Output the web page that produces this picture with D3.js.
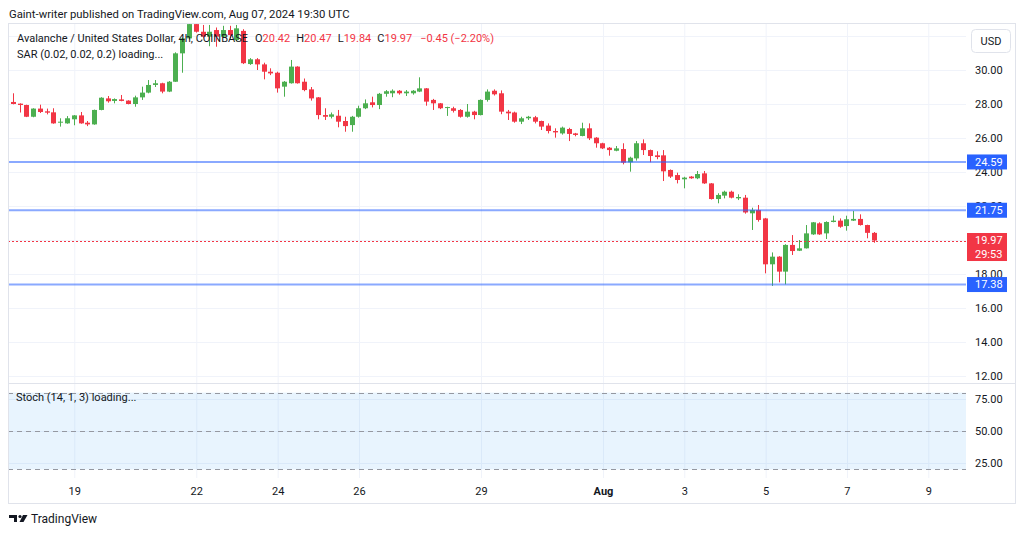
<!DOCTYPE html>
<html>
<head>
<meta charset="utf-8">
<script src="https://cdn.jsdelivr.net/npm/d3@7"></script>
<style>
  body { margin: 0; background: #ffffff; }
  svg text { font-family: Roboto, "Open Sans", sans-serif; }
</style>
</head>
<body>
<div id="vis1"></div>
<script>
// declare constants
const FRAME_WIDTH = 1024;
const FRAME_HEIGHT = 536;
const CHART = {left: 8, right: 1015, top: 23, bottom: 503};
const PLOT_RIGHT = 966;
const MAIN = {top: 23, bottom: 383};
const STOCH = {top: 383, bottom: 478};

const UP = "#4caf50";
const DOWN = "#f23645";
const TEXT = "#131722";
const GRID = "#f0f3fa";
const BORDER = "#e0e3eb";
const LEVEL_BLUE = "#2962ff";

// data: AVAX/USD 4h candles, first one opens Jul 17 12:00 UTC
const START = "2024-07-17T12:00:00Z";
const STEP_HOURS = 4;

const OPENS = [
  28.12, 28.02, 27.94, 27.25, 27.73, 27.57, 27.51, 26.90, 26.86, 27.10,
  27.33, 26.90, 26.80, 27.65, 28.33, 28.18, 28.27, 28.20, 28.00, 28.39,
  28.67, 29.12, 29.22, 28.73, 29.31, 30.98, 31.86, 32.70, 32.25, 31.96,
  32.35, 31.96, 32.35, 31.76, 32.30, 30.35, 30.63, 30.33, 29.90, 29.84,
  29.02, 29.22, 30.20, 29.31, 28.86, 28.39, 27.35, 27.25, 27.31, 27.00,
  26.76, 27.25, 27.75, 28.10, 27.94, 28.60, 28.63, 28.78, 28.63, 28.63,
  28.73, 28.92, 28.24, 28.04, 27.78, 27.75, 27.65, 27.25, 27.55, 27.35,
  28.24, 28.78, 28.63, 27.55, 27.50, 26.96, 27.16, 27.22, 27.00, 26.73,
  26.41, 26.27, 26.53, 26.27, 26.12, 26.57, 26.02, 25.69, 25.43, 25.25,
  25.35, 24.57, 24.80, 25.69, 25.29, 24.98, 24.98, 24.12, 23.82, 23.57,
  23.73, 23.63, 23.92, 23.33, 22.41, 22.61, 22.84, 22.45, 22.49, 21.57,
  21.76, 21.27, 18.57, 19.02, 18.14, 19.71, 19.37, 19.51, 20.33, 20.98,
  20.39, 21.06, 21.14, 20.82, 21.14, 21.24, 20.88, 20.42
];
const HIGHS = [
  28.63, 28.04, 27.96, 27.75, 27.96, 27.73, 27.75, 27.16, 27.29, 27.35,
  27.53, 27.00, 27.67, 28.40, 28.47, 28.33, 28.53, 28.22, 28.49, 29.02,
  29.41, 29.41, 29.25, 29.35, 31.04, 31.90, 33.00, 33.10, 32.65, 32.65,
  32.50, 32.60, 32.60, 32.65, 32.40, 30.70, 30.70, 30.43, 30.10, 29.90,
  29.35, 30.59, 30.22, 29.50, 29.00, 28.41, 27.75, 27.50, 27.65, 27.25,
  27.30, 27.90, 28.27, 28.43, 28.65, 28.82, 28.86, 28.82, 28.82, 28.82,
  29.57, 28.94, 28.30, 28.06, 27.84, 27.84, 27.70, 28.00, 27.60, 28.27,
  28.86, 28.86, 28.80, 27.65, 27.55, 27.25, 27.30, 27.30, 27.02, 26.86,
  26.57, 26.67, 26.60, 26.30, 26.90, 26.86, 26.05, 25.72, 25.47, 25.53,
  25.69, 24.90, 25.82, 25.92, 25.32, 25.22, 25.29, 24.15, 23.96, 23.72,
  23.76, 24.06, 24.06, 23.35, 22.75, 22.90, 22.90, 22.69, 22.65, 21.90,
  22.06, 21.30, 19.27, 19.05, 19.75, 20.29, 20.00, 20.88, 21.06, 21.04,
  21.10, 21.43, 21.27, 21.43, 21.71, 21.51, 20.90, 20.47
];
const LOWS = [
  27.98, 27.50, 27.23, 27.22, 27.47, 27.39, 26.84, 26.67, 26.84, 26.75,
  26.84, 26.70, 26.78, 27.63, 28.08, 28.04, 28.16, 27.98, 27.84, 28.24,
  28.63, 29.00, 28.63, 28.70, 29.30, 29.84, 31.80, 32.20, 31.90, 31.40,
  31.37, 31.90, 31.85, 31.70, 30.35, 30.30, 30.00, 29.45, 29.70, 28.67,
  28.43, 29.20, 29.20, 28.75, 28.20, 27.10, 27.06, 27.15, 26.63, 26.37,
  26.37, 27.20, 27.70, 27.80, 27.70, 28.43, 28.40, 28.55, 28.47, 28.55,
  28.70, 27.90, 27.65, 27.70, 27.30, 27.50, 27.20, 27.20, 27.10, 27.33,
  28.14, 28.50, 27.40, 27.06, 26.90, 26.82, 27.06, 26.86, 26.47, 26.27,
  26.02, 26.20, 25.82, 26.10, 26.10, 25.88, 25.43, 25.35, 24.96, 25.22,
  24.45, 24.02, 24.67, 25.00, 24.57, 24.75, 23.47, 23.65, 23.33, 23.04,
  23.60, 23.58, 23.30, 22.38, 22.16, 22.45, 22.45, 22.35, 21.55, 20.59,
  21.08, 18.04, 17.30, 17.51, 17.39, 19.12, 19.35, 19.50, 20.30, 20.30,
  20.06, 21.04, 20.72, 20.55, 21.12, 20.85, 20.10, 19.84
];
const CLOSES = [
  28.00, 27.94, 27.25, 27.73, 27.53, 27.49, 26.86, 26.96, 27.16, 27.33,
  26.86, 26.80, 27.65, 28.37, 28.16, 28.29, 28.18, 28.00, 28.39, 28.67,
  29.12, 29.22, 28.73, 29.31, 30.98, 31.86, 32.70, 32.25, 31.96, 32.25,
  31.96, 32.35, 32.05, 32.45, 30.40, 30.63, 30.33, 29.90, 29.80, 28.92,
  29.31, 30.20, 29.22, 28.82, 28.33, 27.35, 27.25, 27.39, 26.96, 26.70,
  27.25, 27.75, 28.04, 27.94, 28.60, 28.75, 28.78, 28.63, 28.73, 28.78,
  28.92, 28.14, 28.04, 27.75, 27.82, 27.60, 27.25, 27.55, 27.35, 28.24,
  28.73, 28.57, 27.55, 27.45, 26.96, 27.16, 27.25, 26.96, 26.67, 26.41,
  26.33, 26.61, 26.24, 26.18, 26.57, 25.98, 25.69, 25.39, 25.29, 25.39,
  24.55, 24.84, 25.69, 25.29, 24.94, 24.88, 24.04, 23.73, 23.53, 23.67,
  23.63, 23.88, 23.33, 22.41, 22.65, 22.84, 22.49, 22.53, 21.62, 21.76,
  21.18, 18.57, 19.02, 18.14, 19.71, 19.35, 19.51, 20.39, 21.04, 20.33,
  21.06, 21.14, 20.78, 21.22, 21.24, 20.88, 20.42, 19.97
];

// horizontal levels drawn on the chart
const LEVELS = [24.59, 21.75, 17.38];
const COUNTDOWN = "29:53";

// axes
const PRICE_TICKS = [12, 14, 16, 18, 20, 22, 24, 26, 28, 30, 32];
const STOCH_TICKS = [25, 50, 75];
const STOCH_BANDS = [80, 50, 20];
const TIME_TICKS = ["2024-07-19", "2024-07-22", "2024-07-24", "2024-07-26", "2024-07-29",
                    "2024-08-01", "2024-08-03", "2024-08-05", "2024-08-07", "2024-08-09"];
const TIME_LABELS = ["19", "22", "24", "26", "29", "Aug", "3", "5", "7", "9"];

// make the big frame
const FRAME1 = d3.select("#vis1")
  .append("svg")
    .attr("width", FRAME_WIDTH)
    .attr("height", FRAME_HEIGHT)
    .style("display", "block");

FRAME1.append("rect")
  .attr("width", FRAME_WIDTH)
  .attr("height", FRAME_HEIGHT)
  .attr("fill", "#ffffff");

// scales
const tickDates = TIME_TICKS.map(d => new Date(d + "T00:00:00Z"));
const x = d3.scaleUtc()
  .domain([tickDates[0], tickDates[tickDates.length - 1]])
  .range([74.3, 928.3]);

const y = d3.scaleLinear()
  .domain([12, 30])
  .range([376, 70]);

const yS = d3.scaleLinear()
  .domain([25, 75])
  .range([463, 399]);

const fmt = d3.format(".2f");

const candles = OPENS.map((o, i) => ({
  t: new Date(Date.parse(START) + i * STEP_HOURS * 3600 * 1000),
  o: o, h: HIGHS[i], l: LOWS[i], c: CLOSES[i]
}));

function build_chart() {

  // grid lines
  const vgrid = FRAME1.append("g")
    .attr("transform", "translate(0," + STOCH.bottom + ")")
    .call(d3.axisBottom(x).tickValues(tickDates).tickSize(-(STOCH.bottom - MAIN.top)).tickFormat(""));
  vgrid.select(".domain").remove();
  vgrid.selectAll("line").attr("stroke", GRID);

  const hgrid = FRAME1.append("g")
    .attr("transform", "translate(" + CHART.left + ",0)")
    .call(d3.axisLeft(y).tickValues(PRICE_TICKS).tickSize(-(PLOT_RIGHT - CHART.left)).tickFormat(""));
  hgrid.select(".domain").remove();
  hgrid.selectAll("line").attr("stroke", GRID);

  const sgrid = FRAME1.append("g")
    .attr("transform", "translate(" + CHART.left + ",0)")
    .call(d3.axisLeft(yS).tickValues(STOCH_TICKS).tickSize(-(PLOT_RIGHT - CHART.left)).tickFormat(""));
  sgrid.select(".domain").remove();
  sgrid.selectAll("line").attr("stroke", GRID);

  // stochastic pane: band and dashed levels
  FRAME1.append("rect")
    .attr("x", CHART.left + 1)
    .attr("y", yS(STOCH_BANDS[0]))
    .attr("width", PLOT_RIGHT - CHART.left - 1)
    .attr("height", yS(STOCH_BANDS[2]) - yS(STOCH_BANDS[0]))
    .attr("fill", "rgba(33,150,243,0.1)");

  FRAME1.selectAll(".band")
    .data(STOCH_BANDS)
    .enter()
    .append("line")
      .attr("x1", CHART.left)
      .attr("x2", PLOT_RIGHT)
      .attr("y1", d => Math.round(yS(d)) + 0.5)
      .attr("y2", d => Math.round(yS(d)) + 0.5)
      .attr("stroke", "#9598a1")
      .attr("stroke-dasharray", "5,4");

  // candles
  FRAME1.append("clipPath")
    .attr("id", "mainclip")
    .append("rect")
      .attr("x", CHART.left)
      .attr("y", MAIN.top)
      .attr("width", PLOT_RIGHT - CHART.left)
      .attr("height", MAIN.bottom - MAIN.top);

  const cg = FRAME1.append("g").attr("clip-path", "url(#mainclip)");

  const bars = cg.selectAll(".candle")
    .data(candles)
    .enter()
    .append("g")
      .attr("fill", d => d.c >= d.o ? UP : DOWN);

  bars.append("rect")
    .attr("x", d => Math.round(x(d.t) - 2.5) + 2)
    .attr("width", 1)
    .attr("y", d => y(d.h))
    .attr("height", d => y(d.l) - y(d.h));

  bars.append("rect")
    .attr("x", d => Math.round(x(d.t) - 2.5))
    .attr("width", 5)
    .attr("y", d => y(Math.max(d.o, d.c)))
    .attr("height", d => Math.max(1, Math.abs(y(d.o) - y(d.c))));

  // horizontal levels
  FRAME1.selectAll(".level")
    .data(LEVELS)
    .enter()
    .append("line")
      .attr("x1", CHART.left)
      .attr("x2", PLOT_RIGHT)
      .attr("y1", d => y(d))
      .attr("y2", d => y(d))
      .attr("stroke", LEVEL_BLUE)
      .attr("stroke-opacity", 0.55)
      .attr("stroke-width", 2);

  // last price line
  const last = candles[candles.length - 1];
  FRAME1.append("line")
    .attr("x1", CHART.left)
    .attr("x2", PLOT_RIGHT)
    .attr("y1", Math.round(y(last.c)) + 0.5)
    .attr("y2", Math.round(y(last.c)) + 0.5)
    .attr("stroke", DOWN)
    .attr("stroke-dasharray", "2,2");

  // price axis
  const pAxis = FRAME1.append("g")
    .attr("transform", "translate(975,0)")
    .call(d3.axisRight(y).tickValues(PRICE_TICKS.filter(d => d <= 30)).tickSize(0).tickPadding(0).tickFormat(fmt));
  pAxis.select(".domain").remove();
  pAxis.selectAll("text")
    .attr("fill", TEXT)
    .style("font-size", "11px")
    .style("font-family", "Roboto, sans-serif");

  const sAxis = FRAME1.append("g")
    .attr("transform", "translate(975,0)")
    .call(d3.axisRight(yS).tickValues(STOCH_TICKS).tickSize(0).tickPadding(0).tickFormat(fmt));
  sAxis.select(".domain").remove();
  sAxis.selectAll("text")
    .attr("fill", TEXT)
    .style("font-size", "11px")
    .style("font-family", "Roboto, sans-serif");

  // time axis
  const tAxis = FRAME1.append("g")
    .attr("transform", "translate(0,491)")
    .call(d3.axisBottom(x).tickValues(tickDates).tickSize(0).tickFormat((d, i) => TIME_LABELS[i]));
  tAxis.select(".domain").remove();
  tAxis.selectAll("text")
    .attr("y", 0)
    .attr("dy", "0.35em")
    .attr("fill", TEXT)
    .style("font-size", "11px")
    .style("font-family", "Roboto, sans-serif")
    .style("font-weight", (d, i) => TIME_LABELS[i] === "Aug" ? "bold" : "normal");

  // level labels on the price axis
  const lv = FRAME1.selectAll(".lvlabel")
    .data(LEVELS)
    .enter()
    .append("g");
  lv.append("rect")
    .attr("x", 967)
    .attr("y", d => y(d) - 7.5)
    .attr("width", 40)
    .attr("height", 15)
    .attr("fill", LEVEL_BLUE);
  lv.append("text")
    .attr("x", 975)
    .attr("y", d => y(d))
    .attr("dy", "0.35em")
    .attr("fill", "#ffffff")
    .style("font-size", "11px")
    .text(d => fmt(d));

  // last price label with countdown
  FRAME1.append("rect")
    .attr("x", 967)
    .attr("y", y(last.c) - 7.5)
    .attr("width", 40)
    .attr("height", 28)
    .attr("fill", DOWN);
  FRAME1.append("text")
    .attr("x", 975)
    .attr("y", y(last.c))
    .attr("dy", "0.35em")
    .attr("fill", "#ffffff")
    .style("font-size", "11px")
    .text(fmt(last.c));
  FRAME1.append("text")
    .attr("x", 975)
    .attr("y", y(last.c) + 13.5)
    .attr("dy", "0.35em")
    .attr("fill", "#ffffff")
    .style("font-size", "11px")
    .text(COUNTDOWN);

  // currency button
  FRAME1.append("rect")
    .attr("x", 971.5)
    .attr("y", 29.5)
    .attr("width", 39)
    .attr("height", 23)
    .attr("rx", 4)
    .attr("fill", "#ffffff")
    .attr("stroke", BORDER);
  FRAME1.append("text")
    .attr("x", 991)
    .attr("y", 41)
    .attr("dy", "0.35em")
    .attr("text-anchor", "middle")
    .attr("fill", TEXT)
    .style("font-size", "11px")
    .text("USD");

  // frame and pane separator
  FRAME1.append("rect")
    .attr("x", CHART.left + 0.5)
    .attr("y", CHART.top + 0.5)
    .attr("width", CHART.right - CHART.left)
    .attr("height", CHART.bottom - CHART.top)
    .attr("fill", "none")
    .attr("stroke", BORDER);
  FRAME1.append("line")
    .attr("x1", CHART.left)
    .attr("x2", CHART.right)
    .attr("y1", STOCH.top + 0.5)
    .attr("y2", STOCH.top + 0.5)
    .attr("stroke", BORDER);

  // legend
  FRAME1.append("text")
    .attr("x", 9)
    .attr("y", 14)
    .attr("dy", "0.35em")
    .attr("fill", TEXT)
    .style("font-size", "11.3px")
    .text("Gaint-writer published on TradingView.com, Aug 07, 2024 19:30 UTC");

  const prevClose = candles[candles.length - 2].c;
  const change = last.c - prevClose;
  const minus = v => (v < 0 ? "\u2212" : "+") + Math.abs(v).toFixed(2);
  const parts = [
    {t: "Avalanche / United States Dollar, 4h, COINBASE", c: TEXT, dx: 0},
    {t: "O", c: TEXT, dx: 7}, {t: fmt(last.o), c: DOWN, dx: 0},
    {t: "H", c: TEXT, dx: 6}, {t: fmt(last.h), c: DOWN, dx: 0},
    {t: "L", c: TEXT, dx: 6}, {t: fmt(last.l), c: DOWN, dx: 0},
    {t: "C", c: TEXT, dx: 6}, {t: fmt(last.c), c: DOWN, dx: 0},
    {t: minus(change) + " (" + minus(change / prevClose * 100) + "%)", c: DOWN, dx: 8}
  ];
  FRAME1.append("text")
    .attr("x", 17)
    .attr("y", 38)
    .attr("dy", "0.35em")
    .style("font-size", "11px")
    .selectAll("tspan")
    .data(parts)
    .enter()
    .append("tspan")
      .attr("dx", d => d.dx)
      .attr("fill", d => d.c)
      .text(d => d.t);

  FRAME1.append("text")
    .attr("x", 17)
    .attr("y", 54)
    .attr("dy", "0.35em")
    .attr("fill", TEXT)
    .style("font-size", "11px")
    .text("SAR (0.02, 0.02, 0.2) loading...");

  FRAME1.append("text")
    .attr("x", 16)
    .attr("y", 397)
    .attr("dy", "0.35em")
    .attr("fill", TEXT)
    .style("font-size", "11px")
    .text("Stoch (14, 1, 3) loading...");

  // TradingView mark
  const logo = FRAME1.append("g").attr("fill", TEXT);
  logo.append("path").attr("d", "M9,515 h8 v7 h-3 v-4 h-5 z");
  logo.append("circle").attr("cx", 20).attr("cy", 516.5).attr("r", 1.6);
  logo.append("path").attr("d", "M23,515 h4.5 l-4,7 h-4 z");
  FRAME1.append("text")
    .attr("x", 31)
    .attr("y", 518.5)
    .attr("dy", "0.35em")
    .attr("fill", TEXT)
    .style("font-size", "12px")
    .text("TradingView");
}

build_chart();
</script>
</body>
</html>
